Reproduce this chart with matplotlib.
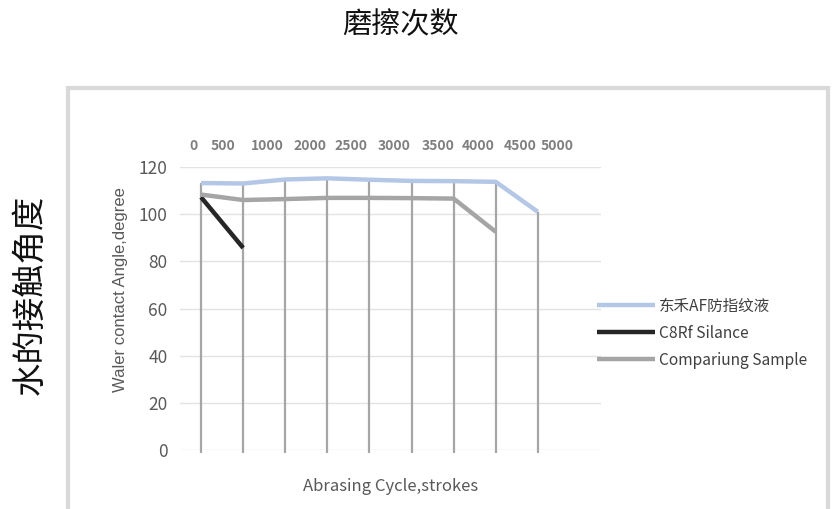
import matplotlib
matplotlib.use("Agg")
import matplotlib.pyplot as plt
from matplotlib.patches import Rectangle

plt.rcParams['font.family'] = ['Noto Sans CJK SC', 'DejaVu Sans']

# data
categories = list(range(10))
top_labels = ['0', '500', '1000', '2000', '2500', '3000', '3500', '4000', '4500', '5000']
top_label_pos = [-0.18, 0.53, 1.57, 2.59, 3.57, 4.58, 5.62, 6.59, 7.57, 8.45]

series_names = ['东禾AF防指纹液', 'C8Rf Silance', 'Compariung Sample']
af_fluid = [113.2, 113.0, 114.7, 115.2, 114.6, 114.1, 114.0, 113.7, 101.0]
c8rf = [107.2, 85.7]
comparing = [108.3, 106.0, 106.4, 106.9, 106.9, 106.8, 106.6, 92.5]

colors = ['#b4c7e7', '#262626', '#a5a5a5']

fig = plt.figure(figsize=(8.33, 5.09), dpi=100)

# outer chart frame
fig.patches.append(Rectangle((68 / 833, -0.05), (828 - 68) / 833, 1.05 - 88 / 509,
                             transform=fig.transFigure, fill=False,
                             edgecolor='#d9d9d9', linewidth=3))

ax = fig.add_axes([180 / 833, 1 - 450 / 509, 421 / 833, (450 - 167) / 509])
ax.set_xlim(-0.5, 9.5)
ax.set_ylim(0, 120)

# drop lines from the highest series down past the axis
all_series = [af_fluid, c8rf, comparing]
for i in categories:
    vals = [s[i] for s in all_series if i < len(s)]
    if vals:
        ax.vlines(i, -1.3, max(vals), color='#a6a6a6', linewidth=1.6,
                  clip_on=False, zorder=2)

for name, vals, c in zip(series_names, all_series, colors):
    ax.plot(categories[:len(vals)], vals, color=c, linewidth=3.2,
            label=name, solid_capstyle='butt', zorder=3)

ax.set_yticks(range(0, 121, 20))
ax.yaxis.grid(True, color='#e3e3e3', linewidth=1)
ax.set_axisbelow(True)
ax.set_xticks([])
ax.tick_params(axis='y', length=0, pad=9, labelsize=12.5, labelcolor='#595959')
for s in ax.spines.values():
    s.set_visible(False)

for lbl, pos in zip(top_labels, top_label_pos):
    ax.text(pos, 129, lbl, ha='center', va='center', fontsize=10,
            color='#7f7f7f', fontweight='semibold')

ax.set_xlabel('Abrasing Cycle,strokes', fontsize=12, color='#595959', labelpad=20)
fig.text(120 / 833, 1 - 290 / 509, 'Waler contact Angle,degree', rotation=90,
         ha='center', va='center', fontsize=12, color='#595959',
         family='Liberation Sans')

fig.text(400 / 833, 1 - 25 / 509, '磨擦次数', ha='center', va='center',
         fontsize=21, color='#111111', fontweight='light')
fig.text(30 / 833, 1 - 295 / 509, '水的接触角度', rotation=90, ha='center',
         va='center', fontsize=24, color='#111111', fontweight='light')

ax.legend(loc='center left', bbox_to_anchor=(583 / 833, 1 - 333 / 509),
          bbox_transform=fig.transFigure, frameon=False, fontsize=11.2,
          handlelength=3.7, handletextpad=0.3, labelspacing=0.65,
          labelcolor='#404040')

fig.savefig('out.png', dpi=100)
